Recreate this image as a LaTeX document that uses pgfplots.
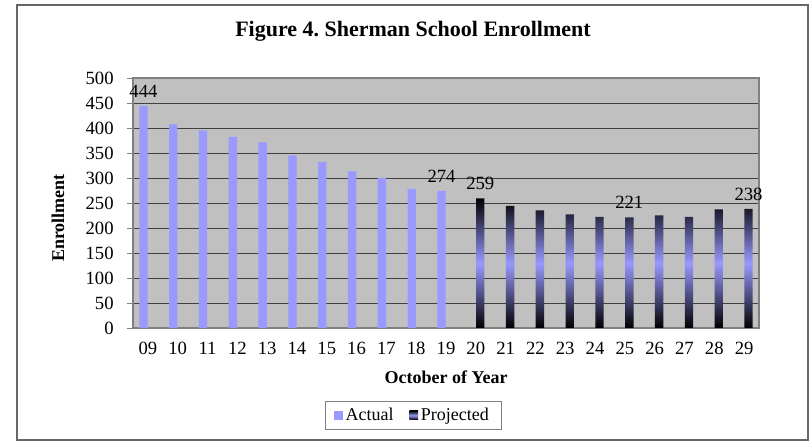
\documentclass[border=0pt]{standalone}
\usepackage{pgfplots}
\pgfplotsset{compat=1.18}
\usepackage{fontspec}
\setmainfont{Liberation Serif}

\definecolor{lav}{HTML}{9999FF}
\definecolor{plotbg}{HTML}{C0C0C0}
\definecolor{gridc}{HTML}{404040}
\definecolor{axisc}{HTML}{808080}

\begin{document}
\begin{tikzpicture}
% page size: 811 x 441 px at 0.75pt per px
\path[use as bounding box] (0,0) rectangle (608.25pt,330.75pt);
\draw[axisc!80!black, line width=1.2pt] (12.75pt,0.75pt) rectangle (606pt,327pt);

\begin{axis}[
    at={(99.75pt,84.75pt)}, anchor=south west,
    width=469.5pt, height=187.5pt, scale only axis,
    xmin=-0.5, xmax=20.5,
    ymin=0, ymax=500,
    xtick={0,...,20},
    xticklabels={09,10,11,12,13,14,15,16,17,18,19,20,21,22,23,24,25,26,27,28,29},
    ytick={0,50,...,500},
    minor xtick={-0.5,0.5,...,20.5},
    xtick pos=bottom, ytick pos=left,
    tick align=outside,
    x tick style={draw=none},
    minor x tick style={axisc, thin},
    y tick style={axisc, thin},
    major tick length=4.5pt,
    minor tick length=4.5pt,
    ymajorgrids=true,
    grid style={gridc, line width=0.6pt},
    axis line style={axisc, line width=0.8pt},
    axis background/.style={fill=plotbg},
    tick label style={font=\fontsize{14}{16}\selectfont},
    /pgf/number format/assume math mode=true,
    xticklabel style={yshift=-2.5pt},
    yticklabel style={xshift=-6.5pt},
    legend columns=2,
    legend style={at={(0.447,-0.348)}, anchor=center, draw=axisc,
        fill=white, font=\fontsize{13.5}{15}\selectfont,
        inner xsep=7pt, inner ysep=3pt,
        /tikz/every even column/.append style={column sep=10pt}},
    legend image code/.code={\path[#1,draw=none] (0pt,-3.5pt) rectangle (6.5pt,3pt);},
]

\addplot[ybar, bar width=0.28, bar shift=-0.15, fill=lav, draw=none]
    coordinates {
    (0,444)(1,407)(2,395)(3,382)(4,371)(5,345)(6,332)(7,313)(8,300)(9,278)(10,274)
    };
\addlegendentry{Actual}

\addplot[ybar, bar width=0.28, bar shift=0.15, draw=none,
    top color=black, bottom color=black, middle color=lav]
    coordinates {
    (11,259)(12,244)(13,235)(14,227)(15,222)(16,221)(17,225)(18,222)(19,237)(20,238)
    };
\addlegendentry{Projected}

\addplot[draw=none, forget plot, nodes near coords, point meta=explicit symbolic,
    nodes near coords style={anchor=south, yshift=3pt, font=\fontsize{14}{16}\selectfont}]
    coordinates {
    (-0.15,444)[444] (9.85,274)[274] (11.15,259)[259] (16.15,221)[221] (20.15,238)[238]
    };

\end{axis}

\node[font=\bfseries\fontsize{16.5}{19}\selectfont] at (309.75pt,307.5pt) {Figure 4.\ Sherman School Enrollment};
\node[font=\bfseries\fontsize{13.5}{15}\selectfont, rotate=90] at (43.5pt,167.25pt) {Enrollment};
\node[font=\bfseries\fontsize{13.5}{15}\selectfont] at (334.5pt,48pt) {October of Year};
\end{tikzpicture}
\end{document}
